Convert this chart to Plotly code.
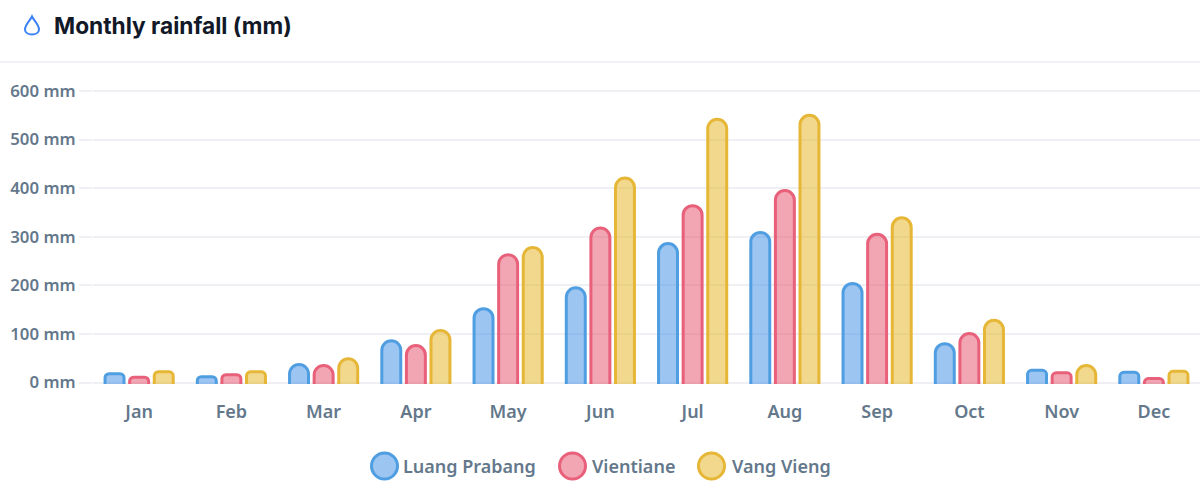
import plotly.graph_objects as go

months = ["Jan","Feb","Mar","Apr","May","Jun","Jul","Aug","Sep","Oct","Nov","Dec"]
luang_prabang = [18,12,37,86,152,195,286,309,204,80,25,21]
vientiane = [11,16,35,76,263,318,364,395,305,101,20,8]
vang_vieng = [22,22,49,107,278,421,542,550,339,128,35,23]
y_ticks = [0,100,200,300,400,500,600]
y_labels = [f"{v} mm" for v in y_ticks]
title = "Monthly rainfall (mm)"

series = [
    ("Luang Prabang", luang_prabang, "rgb(80,158,226)", "rgba(74,150,232,0.55)", 384.5, 403),
    ("Vientiane", vientiane, "rgb(232,96,122)", "rgba(232,93,117,0.55)", 572.5, 592),
    ("Vang Vieng", vang_vieng, "rgb(230,182,54)", "rgba(232,184,48,0.55)", 711.5, 732),
]
TEXT = "#64788c"
GRID = "#eef0f3"
W, H = 1200, 494
L, R, T, B = 93, 0, 89, 110
Y_RANGE = [-3.09, 604.12]   # small overshoot keeps the 0 and 600 gridlines drawn
SMALL = 30         # bars this low get a tighter corner

fig = go.Figure()
for name, vals, line, fill, _, _ in series:
    # the bar foot (stroke and rounding) falls below the axis and is clipped
    for small, radius, skip in ((False, 10, 26), (True, 4, 12)):
        fig.add_bar(
            x=months,
            y=[v + skip if (v < SMALL) == small else None for v in vals],
            base=-skip, name=name, offsetgroup=name,
            marker=dict(color=fill, line=dict(color=line, width=3), cornerradius=radius),
        )

def px(x): return (x - L) / (W - L - R)
def py(y): return 1 - (y - T) / (H - T - B)

shapes = [dict(type="line", xref="paper", yref="paper", x0=px(0), x1=px(W), y0=py(62), y1=py(62),
               line=dict(color="#eceef2", width=1.5))]
# droplet icon
cx, top, bot = 32, 16.5, 35.5
path = (f"M {px(cx)} {py(top)} C {px(cx+1.5)} {py(top+3.5)} {px(cx+7)} {py(top+8)} {px(cx+7)} {py(top+13)} "
        f"C {px(cx+7)} {py(bot+0.5)} {px(cx-7)} {py(bot+0.5)} {px(cx-7)} {py(top+13)} "
        f"C {px(cx-7)} {py(top+8)} {px(cx-1.5)} {py(top+3.5)} {px(cx)} {py(top)} Z")
shapes.append(dict(type="path", xref="paper", yref="paper", path=path, line=dict(color="#3b82f6", width=2)))

annotations = [dict(text=title, xref="paper", yref="paper", x=px(52), y=py(25), xanchor="left", yanchor="middle",
                    showarrow=False, font=dict(family="Inter, sans-serif", size=22.7, color="#111827", weight=700))]
for name, vals, line, fill, c, tx in series:
    r = 13
    shapes.append(dict(type="circle", xref="paper", yref="paper", x0=px(c-r), x1=px(c+r), y0=py(466+r), y1=py(466-r),
                       fillcolor=fill, line=dict(color=line, width=3)))
    annotations.append(dict(text=name, xref="paper", yref="paper", x=px(tx-2), y=py(465.5), xanchor="left", yanchor="middle",
                            showarrow=False, font=dict(family="Noto Sans, sans-serif", size=18, color=TEXT, weight=600)))

fig.update_layout(
    width=W, height=H, margin=dict(l=L, r=R, t=T, b=B),
    paper_bgcolor="white", plot_bgcolor="white", showlegend=False,
    barmode="group", bargap=0.2, bargroupgap=0.23,
    shapes=shapes, annotations=annotations,
    font=dict(family="Noto Sans, sans-serif", color=TEXT),
    xaxis=dict(tickfont=dict(size=18, color=TEXT, weight=600), showgrid=False, ticks="outside",
               ticklen=11, tickcolor="rgba(0,0,0,0)", showline=False, zeroline=False),
    yaxis=dict(range=Y_RANGE, tickvals=y_ticks, ticktext=y_labels, gridcolor=GRID, gridwidth=1.5,
               zeroline=False, ticks="outside", ticklen=13, tickcolor=GRID, tickwidth=1.5,
               tickfont=dict(size=16.8, color=TEXT, weight=600)),
)
fig.write_html("out.html", config=dict(displayModeBar=False),
               post_script="document.body.style.margin='0';document.body.style.overflow='hidden';")
